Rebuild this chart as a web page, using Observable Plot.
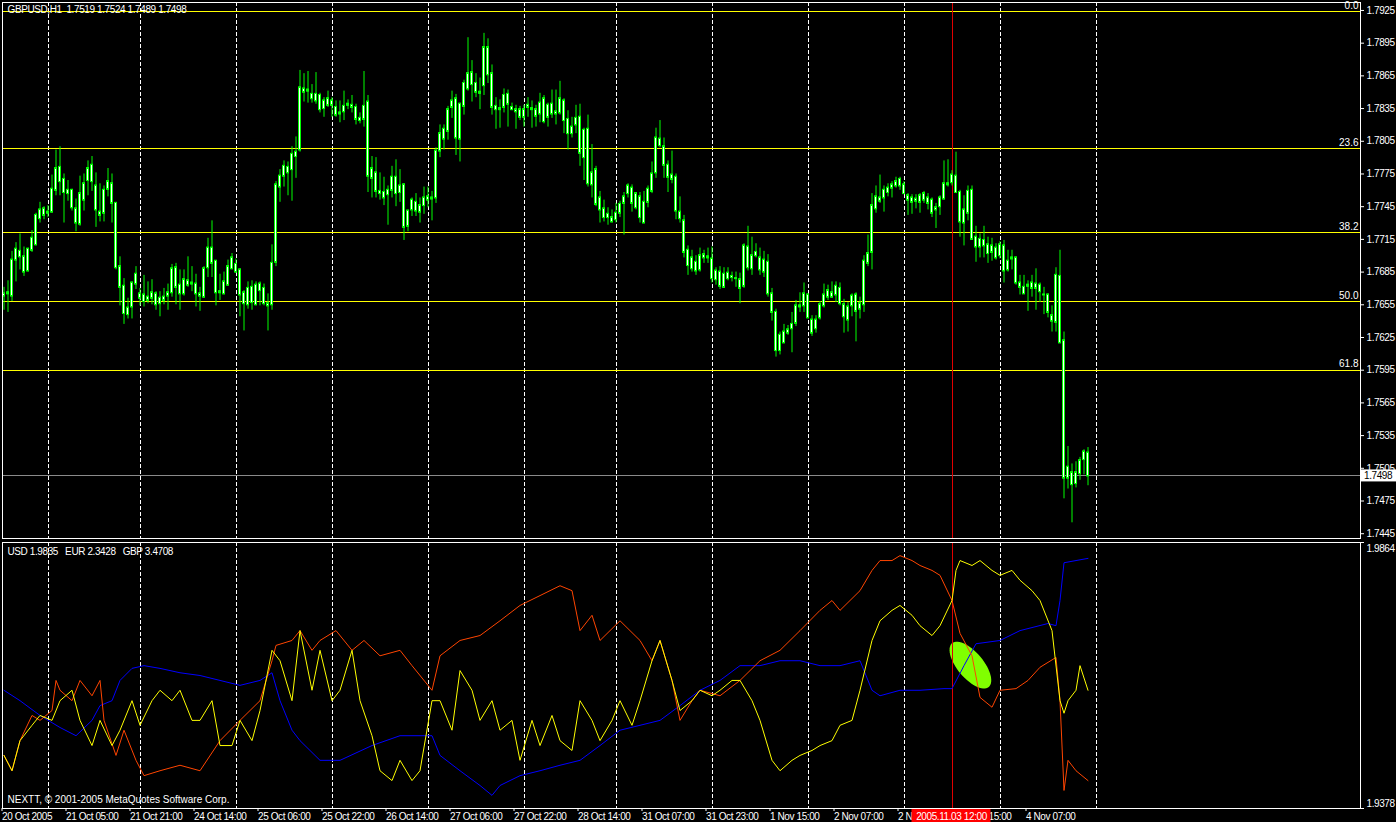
<!DOCTYPE html>
<html><head><meta charset="utf-8">
<script src="https://cdn.jsdelivr.net/npm/d3@7"></script>
<script src="https://cdn.jsdelivr.net/npm/@observablehq/plot@0.6"></script>
<style>
html,body{margin:0;padding:0;background:#000;overflow:hidden;}
#chart{width:1396px;height:822px;background:#000;overflow:hidden}
#chart svg{display:block;max-width:none}
#chart [aria-label$="tick label"] text, #chart .tight{letter-spacing:-0.4px}
</style></head><body><div id="chart"></div>
<script>
// ---------- DATA ----------
const symbolName = "GBPUSD,H1";
const opens = [
1.7665,1.7665,1.7663,1.7696,1.7704,1.7699,1.7686,1.7705,1.7710,1.7734,
1.7743,1.7740,1.7740,1.7760,1.7781,1.7770,1.7757,1.7760,1.7743,1.7729,
1.7751,1.7769,1.7783,1.7764,1.7740,1.7739,1.7761,1.7766,1.7748,1.7690,
1.7672,1.7646,1.7653,1.7674,1.7665,1.7658,1.7662,1.7661,1.7665,1.7656,
1.7662,1.7663,1.7666,1.7689,1.7673,1.7665,1.7677,1.7674,1.7674,1.7665,
1.7662,1.7689,1.7707,1.7695,1.7667,1.7665,1.7673,1.7688,1.7692,1.7687,
1.7666,1.7655,1.7671,1.7655,1.7674,1.7670,1.7656,1.7655,1.7694,1.7763,
1.7773,1.7781,1.7779,1.7791,1.7797,1.7853,1.7852,1.7848,1.7842,1.7847,
1.7835,1.7844,1.7838,1.7836,1.7830,1.7832,1.7839,1.7838,1.7836,1.7826,
1.7825,1.7841,1.7771,1.7776,1.7759,1.7758,1.7756,1.7760,1.7772,1.7758,
1.7765,1.7727,1.7742,1.7749,1.7740,1.7746,1.7751,1.7753,1.7753,1.7796,
1.7807,1.7814,1.7836,1.7844,1.7807,1.7837,1.7853,1.7868,1.7858,1.7850,
1.7856,1.7891,1.7867,1.7837,1.7835,1.7836,1.7848,1.7836,1.7834,1.7834,
1.7827,1.7836,1.7835,1.7834,1.7830,1.7844,1.7827,1.7839,1.7832,1.7831,
1.7842,1.7825,1.7812,1.7820,1.7827,1.7790,1.7816,1.7765,1.7779,1.7753,
1.7743,1.7738,1.7735,1.7733,1.7739,1.7748,1.7757,1.7762,1.7744,1.7754,
1.7730,1.7749,1.7759,1.7776,1.7807,1.7800,1.7783,1.7774,1.7772,1.7740,
1.7732,1.7705,1.7698,1.7694,1.7687,1.7701,1.7699,1.7697,1.7678,1.7685,
1.7671,1.7684,1.7681,1.7679,1.7678,1.7672,1.7708,1.7688,1.7700,1.7698,
1.7685,1.7694,1.7665,1.7648,1.7613,1.7620,1.7629,1.7633,1.7638,1.7653,
1.7654,1.7664,1.7641,1.7633,1.7643,1.7654,1.7662,1.7666,1.7664,1.7670,
1.7655,1.7653,1.7654,1.7664,1.7651,1.7655,1.7693,1.7703,1.7743,1.7753,
1.7753,1.7758,1.7762,1.7764,1.7764,1.7765,1.7755,1.7753,1.7752,1.7749,
1.7751,1.7753,1.7751,1.7742,1.7745,1.7752,1.7765,1.7767,1.7773,1.7758,
1.7730,1.7739,1.7760,1.7717,1.7708,1.7709,1.7710,1.7703,1.7707,1.7700,
1.7709,1.7687,1.7698,1.7698,1.7675,1.7671,1.7673,1.7670,1.7674,1.7673,
1.7664,1.7664,1.7645,1.7639,1.7681,1.7622,1.7496,1.7501,1.7491,1.7500,
1.7513,1.7519];
const highs = [
1.7671,1.7677,1.7704,1.7712,1.7720,1.7708,1.7707,1.7723,1.7739,1.7749,
1.7745,1.7746,1.7774,1.7797,1.7800,1.7775,1.7769,1.7761,1.7752,1.7773,
1.7775,1.7787,1.7791,1.7776,1.7766,1.7764,1.7780,1.7775,1.7749,1.7699,
1.7679,1.7661,1.7676,1.7690,1.7670,1.7682,1.7676,1.7678,1.7667,1.7667,
1.7670,1.7674,1.7692,1.7693,1.7687,1.7687,1.7699,1.7690,1.7683,1.7671,
1.7690,1.7716,1.7732,1.7690,1.7683,1.7685,1.7696,1.7702,1.7697,1.7688,
1.7668,1.7676,1.7677,1.7676,1.7676,1.7674,1.7665,1.7710,1.7768,1.7779,
1.7787,1.7786,1.7800,1.7809,1.7870,1.7867,1.7869,1.7857,1.7868,1.7849,
1.7845,1.7851,1.7845,1.7842,1.7842,1.7851,1.7843,1.7847,1.7839,1.7831,
1.7869,1.7847,1.7791,1.7790,1.7776,1.7772,1.7764,1.7782,1.7788,1.7779,
1.7766,1.7742,1.7753,1.7757,1.7753,1.7763,1.7763,1.7759,1.7799,1.7820,
1.7820,1.7837,1.7851,1.7848,1.7840,1.7861,1.7900,1.7879,1.7867,1.7863,
1.7904,1.7899,1.7875,1.7845,1.7843,1.7853,1.7852,1.7840,1.7838,1.7837,
1.7838,1.7845,1.7842,1.7838,1.7849,1.7847,1.7840,1.7852,1.7852,1.7860,
1.7844,1.7833,1.7827,1.7838,1.7839,1.7817,1.7829,1.7802,1.7782,1.7759,
1.7751,1.7744,1.7742,1.7748,1.7750,1.7758,1.7766,1.7765,1.7758,1.7758,
1.7759,1.7764,1.7786,1.7817,1.7824,1.7808,1.7787,1.7796,1.7775,1.7754,
1.7737,1.7709,1.7705,1.7700,1.7707,1.7705,1.7707,1.7708,1.7689,1.7690,
1.7689,1.7689,1.7685,1.7685,1.7684,1.7711,1.7727,1.7717,1.7711,1.7707,
1.7704,1.7701,1.7670,1.7651,1.7630,1.7637,1.7636,1.7648,1.7659,1.7666,
1.7675,1.7665,1.7645,1.7645,1.7658,1.7674,1.7673,1.7676,1.7676,1.7675,
1.7660,1.7657,1.7665,1.7666,1.7662,1.7700,1.7719,1.7757,1.7764,1.7774,
1.7764,1.7766,1.7768,1.7772,1.7772,1.7768,1.7757,1.7756,1.7756,1.7757,
1.7759,1.7757,1.7753,1.7748,1.7755,1.7787,1.7788,1.7778,1.7795,1.7760,
1.7755,1.7764,1.7764,1.7727,1.7720,1.7727,1.7717,1.7716,1.7711,1.7713,
1.7714,1.7705,1.7705,1.7699,1.7682,1.7682,1.7677,1.7682,1.7688,1.7675,
1.7671,1.7665,1.7654,1.7689,1.7705,1.7630,1.7525,1.7509,1.7511,1.7515,
1.7522,1.7524];
const lows = [
1.7650,1.7648,1.7658,1.7676,1.7687,1.7681,1.7685,1.7703,1.7709,1.7730,
1.7733,1.7735,1.7739,1.7755,1.7755,1.7730,1.7750,1.7741,1.7722,1.7727,
1.7741,1.7755,1.7759,1.7726,1.7731,1.7731,1.7754,1.7730,1.7687,1.7654,
1.7637,1.7642,1.7642,1.7669,1.7654,1.7653,1.7656,1.7655,1.7650,1.7644,
1.7655,1.7650,1.7662,1.7655,1.7650,1.7663,1.7671,1.7667,1.7653,1.7649,
1.7661,1.7680,1.7680,1.7654,1.7659,1.7664,1.7672,1.7687,1.7684,1.7644,
1.7631,1.7651,1.7650,1.7654,1.7654,1.7654,1.7631,1.7650,1.7690,1.7749,
1.7763,1.7755,1.7750,1.7771,1.7795,1.7841,1.7840,1.7840,1.7839,1.7831,
1.7827,1.7836,1.7827,1.7827,1.7822,1.7824,1.7834,1.7831,1.7820,1.7821,
1.7818,1.7758,1.7753,1.7753,1.7751,1.7746,1.7728,1.7753,1.7745,1.7749,
1.7714,1.7722,1.7736,1.7736,1.7730,1.7738,1.7744,1.7732,1.7748,1.7790,
1.7797,1.7806,1.7826,1.7792,1.7786,1.7829,1.7851,1.7841,1.7845,1.7834,
1.7847,1.7858,1.7829,1.7816,1.7817,1.7831,1.7818,1.7833,1.7816,1.7824,
1.7818,1.7827,1.7817,1.7818,1.7822,1.7821,1.7818,1.7826,1.7820,1.7829,
1.7812,1.7797,1.7808,1.7812,1.7782,1.7769,1.7763,1.7753,1.7745,1.7730,
1.7731,1.7728,1.7730,1.7730,1.7735,1.7719,1.7753,1.7740,1.7742,1.7730,
1.7730,1.7744,1.7757,1.7771,1.7799,1.7771,1.7758,1.7766,1.7733,1.7730,
1.7698,1.7682,1.7685,1.7682,1.7685,1.7693,1.7693,1.7675,1.7673,1.7669,
1.7670,1.7677,1.7676,1.7671,1.7656,1.7670,1.7686,1.7682,1.7698,1.7682,
1.7680,1.7662,1.7640,1.7607,1.7609,1.7620,1.7627,1.7611,1.7635,1.7648,
1.7648,1.7642,1.7626,1.7629,1.7641,1.7652,1.7659,1.7661,1.7657,1.7654,
1.7629,1.7630,1.7644,1.7621,1.7642,1.7648,1.7690,1.7687,1.7739,1.7748,
1.7740,1.7754,1.7753,1.7762,1.7760,1.7756,1.7737,1.7738,1.7743,1.7739,
1.7748,1.7742,1.7735,1.7725,1.7737,1.7751,1.7763,1.7764,1.7757,1.7717,
1.7709,1.7732,1.7714,1.7694,1.7698,1.7698,1.7693,1.7695,1.7696,1.7697,
1.7675,1.7685,1.7687,1.7673,1.7664,1.7665,1.7649,1.7662,1.7650,1.7657,
1.7646,1.7643,1.7630,1.7630,1.7620,1.7477,1.7486,1.7455,1.7487,1.7494,
1.7499,1.7489];
const closes = [
1.7663,1.7666,1.7696,1.7706,1.7699,1.7685,1.7706,1.7716,1.7737,1.7742,
1.7737,1.7739,1.7761,1.7780,1.7768,1.7758,1.7760,1.7744,1.7730,1.7757,
1.7766,1.7780,1.7768,1.7742,1.7737,1.7760,1.7768,1.7748,1.7689,1.7671,
1.7647,1.7652,1.7675,1.7683,1.7661,1.7664,1.7659,1.7666,1.7655,1.7661,
1.7659,1.7666,1.7688,1.7671,1.7665,1.7678,1.7673,1.7675,1.7665,1.7663,
1.7688,1.7707,1.7693,1.7666,1.7666,1.7676,1.7690,1.7698,1.7685,1.7664,
1.7656,1.7670,1.7657,1.7673,1.7668,1.7656,1.7654,1.7693,1.7765,1.7773,
1.7782,1.7776,1.7793,1.7795,1.7854,1.7850,1.7851,1.7844,1.7848,1.7834,
1.7842,1.7838,1.7842,1.7829,1.7831,1.7837,1.7838,1.7836,1.7825,1.7824,
1.7837,1.7773,1.7780,1.7759,1.7757,1.7753,1.7760,1.7772,1.7757,1.7764,
1.7726,1.7741,1.7751,1.7741,1.7746,1.7753,1.7754,1.7752,1.7796,1.7812,
1.7816,1.7834,1.7842,1.7808,1.7839,1.7858,1.7867,1.7857,1.7850,1.7849,
1.7891,1.7866,1.7836,1.7834,1.7834,1.7847,1.7839,1.7834,1.7832,1.7827,
1.7834,1.7838,1.7834,1.7828,1.7840,1.7823,1.7838,1.7830,1.7830,1.7844,
1.7824,1.7812,1.7818,1.7826,1.7794,1.7815,1.7766,1.7776,1.7747,1.7742,
1.7735,1.7735,1.7731,1.7739,1.7747,1.7754,1.7764,1.7748,1.7757,1.7735,
1.7749,1.7761,1.7775,1.7808,1.7801,1.7783,1.7772,1.7770,1.7741,1.7734,
1.7703,1.7691,1.7688,1.7686,1.7700,1.7698,1.7698,1.7679,1.7686,1.7672,
1.7683,1.7679,1.7680,1.7679,1.7670,1.7709,1.7689,1.7700,1.7703,1.7687,
1.7696,1.7665,1.7648,1.7613,1.7627,1.7630,1.7632,1.7637,1.7654,1.7654,
1.7665,1.7643,1.7629,1.7641,1.7655,1.7664,1.7668,1.7662,1.7672,1.7656,
1.7644,1.7641,1.7663,1.7649,1.7656,1.7695,1.7702,1.7746,1.7754,1.7750,
1.7760,1.7762,1.7765,1.7768,1.7770,1.7757,1.7751,1.7749,1.7750,1.7755,
1.7757,1.7748,1.7739,1.7744,1.7753,1.7766,1.7766,1.7774,1.7758,1.7731,
1.7742,1.7759,1.7715,1.7708,1.7715,1.7714,1.7702,1.7709,1.7698,1.7710,
1.7686,1.7695,1.7697,1.7675,1.7671,1.7665,1.7672,1.7675,1.7670,1.7667,
1.7664,1.7648,1.7640,1.7682,1.7620,1.7496,1.7506,1.7490,1.7501,1.7512,
1.7520,1.7498];

// Fibonacci retracement object
const fibLabels = ["0.0","23.6","38.2","50.0","61.8"];
const fibPrices = [1.7924, 1.7798, 1.7721, 1.7658, 1.7595];

// price axis
const priceTickLabels = ["1.7925","1.7895","1.7865","1.7835","1.7805","1.7775","1.7745","1.7715","1.7685","1.7655","1.7625","1.7595","1.7565","1.7535","1.7505","1.7475","1.7445"];
const priceDomain = [1.74406, 1.79323];

// time axis (bar index -> label)
const timeTickBars = [0,16,32,48,64,80,96,112,128,144,160,176,192,208,224,240,256];
const timeTickLabels = ["20 Oct 2005","21 Oct 05:00","21 Oct 21:00","24 Oct 14:00","25 Oct 06:00","25 Oct 22:00","26 Oct 14:00","27 Oct 06:00","27 Oct 22:00","28 Oct 14:00","31 Oct 07:00","31 Oct 23:00","1 Nov 15:00","2 Nov 07:00","2 Nov 23:00","3 Nov 15:00","4 Nov 07:00"];
const dayStartBars = [11,34,58,82,106,130,153,177,201,225,249,273];
const markerBar = 237;
const markerLabel = "2005.11.03 12:00";

// indicator window
const indDomain = [1.9378, 1.9864];
const indTickLabels = ["1.9864","1.9378"];
const indNames = ["USD","EUR","GBP"];
const indLast = ["1.9835","2.3428","3.4708"];
const usdBars = [0,4,9,14,18,22,24,27,29,32,35,39,44,49,54,59,64,67,69,72,74,79,84,92,99,107,109,114,119,122,124,129,134,139,144,149,154,159,164,169,174,179,184,189,194,199,204,209,214,217,219,224,229,235,237,240,243,249,254,261,263,264,265,268,271];
const usdVals = [1.9594,1.9575,1.9548,1.9526,1.9511,1.9539,1.9566,1.9575,1.9612,1.9634,1.9639,1.9634,1.9626,1.9621,1.9612,1.9603,1.9612,1.9626,1.9575,1.9521,1.9502,1.9466,1.9466,1.9493,1.9511,1.9511,1.9475,1.9447,1.9420,1.9402,1.9420,1.9438,1.9447,1.9457,1.9466,1.9493,1.9521,1.9530,1.9539,1.9566,1.9594,1.9612,1.9639,1.9639,1.9648,1.9648,1.9639,1.9639,1.9648,1.9594,1.9584,1.9594,1.9594,1.9597,1.9597,1.9639,1.9679,1.9685,1.9703,1.9716,1.9712,1.9758,1.9827,1.9831,1.9835];
const gbpBars = [0,2,4,7,9,12,13,14,17,19,22,24,25,28,30,33,35,39,44,49,54,59,64,67,68,72,74,77,79,83,87,90,94,99,102,107,109,114,119,124,129,134,139,142,144,147,149,154,159,162,164,167,169,172,174,179,184,189,194,199,204,207,209,214,217,219,222,224,227,229,232,234,237,239,242,244,247,249,253,256,259,263,264,265,266,268,271];
const gbpVals = [1.9475,1.9447,1.9502,1.9548,1.9539,1.9557,1.9612,1.9594,1.9575,1.9612,1.9584,1.9612,1.9539,1.9475,1.9521,1.9466,1.9438,1.9447,1.9457,1.9447,1.9502,1.9539,1.9575,1.9648,1.9676,1.9685,1.9703,1.9667,1.9685,1.9703,1.9667,1.9685,1.9657,1.9667,1.9639,1.9594,1.9657,1.9685,1.9694,1.9721,1.9749,1.9767,1.9785,1.9776,1.9703,1.9731,1.9685,1.9721,1.9685,1.9648,1.9685,1.9612,1.9539,1.9575,1.9594,1.9584,1.9612,1.9648,1.9667,1.9703,1.9740,1.9758,1.9740,1.9776,1.9813,1.9831,1.9831,1.9840,1.9831,1.9822,1.9813,1.9804,1.9758,1.9698,1.9657,1.9581,1.9563,1.9594,1.9597,1.9612,1.9636,1.9654,1.9575,1.9411,1.9466,1.9447,1.9429];
const eurBars = [0,2,4,7,9,12,14,17,19,22,24,27,29,32,34,37,39,42,44,47,49,52,54,57,59,62,64,67,69,72,74,77,79,82,84,87,89,92,94,97,99,102,104,107,109,112,114,117,119,122,124,127,129,132,134,137,139,142,144,147,149,152,154,157,159,162,164,167,169,172,174,177,179,182,184,187,189,192,194,197,199,202,204,207,209,212,214,217,219,222,224,227,229,232,234,237,238,239,242,244,247,249,252,254,257,259,262,264,265,266,268,269,271];
const eurVals = [1.9475,1.9447,1.9502,1.9530,1.9548,1.9539,1.9575,1.9594,1.9539,1.9493,1.9539,1.9493,1.9521,1.9575,1.9530,1.9575,1.9594,1.9575,1.9594,1.9539,1.9539,1.9575,1.9493,1.9493,1.9539,1.9502,1.9557,1.9667,1.9648,1.9575,1.9703,1.9594,1.9667,1.9575,1.9594,1.9667,1.9575,1.9511,1.9447,1.9429,1.9466,1.9429,1.9447,1.9575,1.9575,1.9521,1.9630,1.9594,1.9539,1.9575,1.9521,1.9539,1.9466,1.9539,1.9493,1.9548,1.9502,1.9484,1.9575,1.9539,1.9502,1.9539,1.9575,1.9530,1.9575,1.9648,1.9685,1.9612,1.9557,1.9575,1.9594,1.9584,1.9594,1.9612,1.9612,1.9575,1.9539,1.9466,1.9447,1.9466,1.9475,1.9484,1.9493,1.9502,1.9530,1.9539,1.9594,1.9685,1.9721,1.9740,1.9749,1.9731,1.9712,1.9694,1.9712,1.9758,1.9813,1.9831,1.9822,1.9831,1.9813,1.9804,1.9813,1.9795,1.9776,1.9758,1.9703,1.9575,1.9552,1.9575,1.9594,1.9639,1.9594];

// drawn ellipse object (centre in bar / indicator units)
const ellipseBars = [241.6];
const ellipseVals = [1.9640];
const copyrightText = "NEXTT, \u00a9 2001-2005 MetaQuotes Software Corp.";

// ---------- CHART ----------
const W = 1396;
const X_DOMAIN = [-0.375, 339.125];
const FONT = "'Liberation Sans', Arial, Helvetica, sans-serif";
const LIME = "#00ff00";
const nb = "\u00a0";
const f4 = v => v.toFixed(4);

const bars = opens.map((o, i) => ({i, o, h: highs[i], l: lows[i], c: closes[i]}));
const last = bars[bars.length - 1];
const fib = fibLabels.map((label, k) => ({label, p: fibPrices[k]}));
const pairs = (bs, vs) => bs.map((b, k) => ({b, v: vs[k]}));
const usd = pairs(usdBars, usdVals), eur = pairs(eurBars, eurVals), gbp = pairs(gbpBars, gbpVals);
const timeLabelMap = new Map(timeTickBars.map((b, k) => [b, timeTickLabels[k]]));
const indTicks = indTickLabels.map(Number);

const baseStyle = {background: "#000", color: "#fff", fontFamily: FONT, fontSize: "10px", overflow: "visible"};
const grid = () => Plot.ruleX(dayStartBars, {stroke: "#fff", strokeDasharray: "4,2", strokeWidth: 1, shapeRendering: "crispEdges"});

const title = `${symbolName}${nb}${nb}${f4(last.o)} ${f4(last.h)} ${f4(last.l)} ${f4(last.c)}`;

const topPlot = Plot.plot({
  width: W, height: 541,
  marginLeft: 2, marginRight: 36, marginTop: 2, marginBottom: 3,
  style: baseStyle,
  x: {domain: X_DOMAIN, axis: null, label: null},
  y: {domain: priceDomain, axis: null, label: null},
  marks: [
    grid(),
    Plot.ruleY(fibPrices, {stroke: "#ffff00", strokeWidth: 1, shapeRendering: "crispEdges"}),
    Plot.ruleY([last.c], {stroke: "#8a8a8a", strokeWidth: 1, shapeRendering: "crispEdges"}),
    Plot.ruleX([markerBar], {stroke: "#e00000", strokeWidth: 1, shapeRendering: "crispEdges"}),
    Plot.ruleX(bars, {x: "i", y1: "l", y2: "h", stroke: LIME, strokeWidth: 1}),
    Plot.rect(bars, {x1: d => d.i - 0.25, x2: d => d.i + 0.25, y1: "o", y2: "c",
      fill: "#ffffff", stroke: LIME, strokeWidth: 1, insetTop: -0.5, insetBottom: -0.5}),
    Plot.text(fib, {frameAnchor: "right", y: "p", text: "label", textAnchor: "end", dx: -2, dy: -6, fill: "#fff", fontSize: 10}),
    Plot.axisY(priceTickLabels.map(Number), {anchor: "right", label: null, tickFormat: d => d.toFixed(4), tickSize: 3, tickPadding: 3,
      stroke: "#fff", fill: "#fff", fontSize: 10}),
    Plot.frame({stroke: "#fff", shapeRendering: "crispEdges"}),
    Plot.text([title], {frameAnchor: "top-left", dx: 5, dy: 3, fill: "#fff", fontSize: 10})
  ]
});

const ellipseSymbol = {
  draw(ctx) {
    const a = 28.5, b = 13, t = 50 * Math.PI / 180, n = 60;
    for (let k = 0; k <= n; k++) {
      const u = k / n * 2 * Math.PI;
      const px = a * Math.cos(u), py = b * Math.sin(u);
      const X = px * Math.cos(t) - py * Math.sin(t), Y = px * Math.sin(t) + py * Math.cos(t);
      if (k === 0) ctx.moveTo(X, Y); else ctx.lineTo(X, Y);
    }
    ctx.closePath();
  }
};

const header = indNames.map((n, k) => `${n} ${indLast[k]}`).join(nb + nb + nb);

const bottomPlot = Plot.plot({
  width: W, height: 281,
  marginLeft: 2, marginRight: 36, marginTop: 1, marginBottom: 14,
  style: baseStyle,
  x: {domain: X_DOMAIN, axis: null, label: null},
  y: {domain: indDomain, axis: null, label: null},
  marks: [
    grid(),
    Plot.dot(ellipseBars.map((b, k) => ({b, v: ellipseVals[k]})), {x: "b", y: "v", symbol: ellipseSymbol, r: 10, fill: "#80ff00", stroke: "none"}),
    Plot.ruleX([markerBar], {stroke: "#e00000", strokeWidth: 1, shapeRendering: "crispEdges"}),
    Plot.line(usd, {x: "b", y: "v", stroke: "#0000ff", strokeWidth: 1}),
    Plot.line(gbp, {x: "b", y: "v", stroke: "#ff4500", strokeWidth: 1}),
    Plot.line(eur, {x: "b", y: "v", stroke: "#ffff00", strokeWidth: 1}),
    Plot.frame({stroke: "#fff", shapeRendering: "crispEdges"}),
    Plot.axisY(indTicks, {anchor: "right", label: null, tickFormat: () => "", tickSize: 3, stroke: "#fff"}),
    Plot.text([indTicks[0]], {y: d => d, frameAnchor: "right", textAnchor: "start", dx: 6, dy: 6, fill: "#fff", fontSize: 10, text: () => indTickLabels[0]}),
    Plot.text([indTicks[1]], {y: d => d, frameAnchor: "right", textAnchor: "start", dx: 6, dy: -5, fill: "#fff", fontSize: 10, text: () => indTickLabels[1]}),
    Plot.axisX(timeTickBars, {anchor: "bottom", label: null, tickFormat: d => timeLabelMap.get(d), textAnchor: "start", tickSize: 3, tickPadding: 1,
      dx: -2, stroke: "#fff", fill: "#fff", fontSize: 10}),
    Plot.text([header], {frameAnchor: "top-left", dx: 5, dy: 5, fill: "#fff", fontSize: 10}),
    Plot.text([copyrightText], {frameAnchor: "bottom-left", dx: 5, dy: -6, fill: "#fff", fontSize: 10})
  ]
});

const host = document.getElementById("chart");
host.appendChild(topPlot);
host.appendChild(bottomPlot);

// tighter letter spacing on the header texts (MetaTrader bitmap font is narrow)
d3.select(topPlot).selectAll("text").filter(function() { return this.textContent === title; }).classed("tight", true);
d3.select(bottomPlot).selectAll("text").filter(function() { return this.textContent === header || indTickLabels.includes(this.textContent); }).classed("tight", true);

// overlays positioned through the plots' own scales
function apply(plot, name, v) {
  const s = plot.scale(name);
  const [d0, d1] = s.domain, [r0, r1] = s.range;
  return r0 + (v - d0) / (d1 - d0) * (r1 - r0);
}
// current price box on the price axis
{
  const py = apply(topPlot, "y", last.c);
  const g = d3.select(topPlot).append("g").attr("text-anchor", "start");
  g.append("rect").attr("x", 1361).attr("y", py - 6).attr("width", 35).attr("height", 12).attr("fill", "#fff");
  g.append("text").attr("class", "tight").attr("x", 1364).attr("y", py + 4).attr("fill", "#000").attr("text-anchor", "start")
    .attr("font-family", FONT).attr("font-size", 10).text(f4(last.c));
}
// highlighted time label of the vertical line (drawn over the axis labels, as in the terminal)
{
  const px = apply(bottomPlot, "x", markerBar);
  const g = d3.select(bottomPlot).append("g");
  g.append("rect").attr("x", px - 40).attr("y", 268).attr("width", 79).attr("height", 13).attr("fill", "#ff0000");
  g.append("text").attr("class", "tight").attr("x", px).attr("y", 278.5).attr("fill", "#fff").attr("text-anchor", "middle")
    .attr("font-family", FONT).attr("font-size", 10).text(markerLabel);
}
</script>
</body></html>
